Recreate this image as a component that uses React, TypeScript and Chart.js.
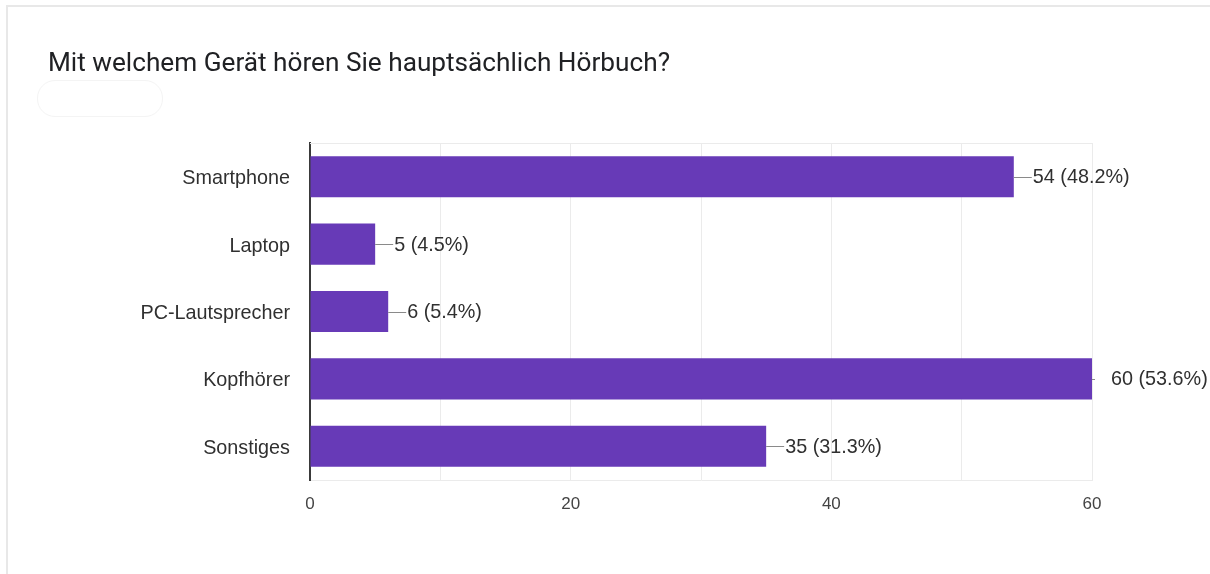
import React, { useEffect, useRef } from "react";
import { Chart, registerables } from "chart.js";

Chart.register(...registerables);

const TITLE = "Mit welchem Gerät hören Sie hauptsächlich Hörbuch?";
const categories = ["Smartphone", "Laptop", "PC-Lautsprecher", "Kopfhörer", "Sonstiges"];
const counts = [54, 5, 6, 60, 35];
const percents = ["48.2%", "4.5%", "5.4%", "53.6%", "31.3%"];
const xMin = 0;
const xMax = 60;
const xGridStep = 10;
const xLabelStep = 20;

const BAR_COLOR = "#673ab7";
const FONT = "'Liberation Sans', Arial, sans-serif";

const frameAndLabels = {
  id: "frameAndLabels",
  beforeDatasetsDraw(chart: any) {
    const { ctx, chartArea } = chart;
    ctx.save();
    ctx.strokeStyle = "#ebebeb";
    ctx.lineWidth = 1;
    ctx.beginPath();
    ctx.moveTo(chartArea.left, chartArea.top + 0.5);
    ctx.lineTo(chartArea.right, chartArea.top + 0.5);
    ctx.stroke();
    ctx.restore();
  },
  afterDatasetsDraw(chart: any) {
    const { ctx, chartArea } = chart;
    const meta = chart.getDatasetMeta(0);
    ctx.save();
    ctx.font = `19.8px ${FONT}`;
    ctx.textBaseline = "middle";
    ctx.textAlign = "left";
    meta.data.forEach((bar: any, i: number) => {
      const label = `${counts[i]} (${percents[i]})`;
      const x = bar.x;
      const y = bar.y;
      const atEdge = x >= chartArea.right - 1;
      ctx.strokeStyle = "#8a8a8a";
      ctx.lineWidth = 1;
      ctx.beginPath();
      ctx.moveTo(x, Math.round(y) + 0.5);
      ctx.lineTo(x + (atEdge ? 3 : 18), Math.round(y) + 0.5);
      ctx.stroke();
      ctx.fillStyle = "#303030";
      ctx.fillText(label, x + 19, y + 1);
    });
    ctx.restore();
  },
};

export default function App() {
  const canvasRef = useRef<HTMLCanvasElement | null>(null);

  useEffect(() => {
    document.body.style.margin = "0";
    const canvas = canvasRef.current;
    if (!canvas) return;
    const chart = new Chart(canvas, {
      type: "bar",
      data: {
        labels: categories,
        datasets: [
          {
            data: counts,
            backgroundColor: BAR_COLOR,
            borderWidth: 0,
            barPercentage: 0.61,
            categoryPercentage: 1,
          },
        ],
      },
      options: {
        indexAxis: "y",
        animation: false,
        responsive: false,
        maintainAspectRatio: false,
        layout: { padding: { left: 0, right: 118, top: 143, bottom: 0 } },
        plugins: {
          legend: { display: false },
          tooltip: { enabled: false },
          title: { display: false },
        },
        scales: {
          x: {
            min: xMin,
            max: xMax,
            afterFit: (s: any) => {
              s.height = 94;
            },
            ticks: {
              stepSize: xGridStep,
              color: "#444444",
              font: { family: FONT, size: 17 },
              padding: 14,
              maxRotation: 0,
              autoSkip: false,
              callback: (v: any) => (Number(v) % xLabelStep === 0 ? String(v) : ""),
            },
            grid: {
              color: "#ebebeb",
              lineWidth: 1,
              drawTicks: false,
            },
            border: { color: "#ebebeb", width: 1 },
          },
          y: {
            afterFit: (s: any) => {
              s.width = 310;
            },
            ticks: {
              color: "#303030",
              font: { family: FONT, size: 19.8 },
              padding: 20,
              labelOffset: 2,
            },
            grid: { display: false, drawTicks: false },
            border: { color: "#3a3a3a", width: 2 },
          },
        },
      },
      plugins: [frameAndLabels],
    });
    return () => chart.destroy();
  }, []);

  return (
    <div style={{ position: "relative", width: 1210, height: 574, background: "#ffffff", overflow: "hidden" }}>
      <div
        style={{
          position: "absolute",
          left: 6,
          top: 5,
          width: 1300,
          height: 700,
          border: "2px solid #e8e8e8",
          boxSizing: "border-box",
        }}
      />
      <div
        style={{
          position: "absolute",
          left: 37,
          top: 80,
          width: 124,
          height: 35,
          borderRadius: 18,
          border: "1px solid #f4f4f4",
        }}
      />
      <canvas ref={canvasRef} width={1210} height={574} style={{ position: "absolute", left: 0, top: 0 }} />
      <div
        style={{
          position: "absolute",
          left: 48,
          top: 47,
          fontFamily: "Roboto, 'Noto Sans', sans-serif",
          fontSize: 26.2,
          lineHeight: "30px",
          color: "#202124",
          whiteSpace: "nowrap",
        }}
      >
        {TITLE}
      </div>
    </div>
  );
}
